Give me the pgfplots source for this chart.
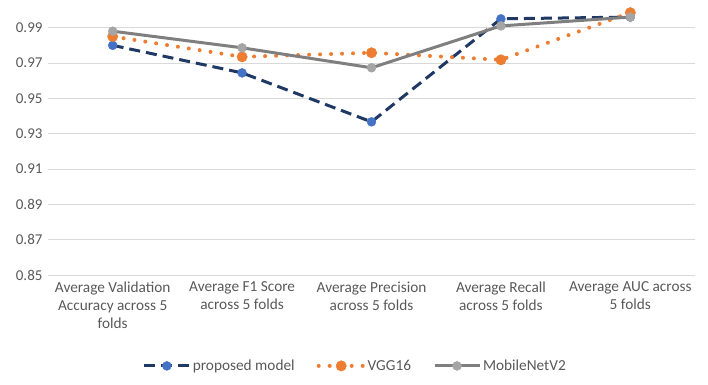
\documentclass[border=0pt]{standalone}
\usepackage{pgfplots}
\pgfplotsset{compat=1.18}
\usepackage{fontspec}
\setmainfont{Carlito}
\definecolor{navy}{HTML}{203864}
\definecolor{blueM}{HTML}{4472C4}
\definecolor{orangeL}{HTML}{ED7D31}
\definecolor{grayL}{HTML}{7F7F7F}
\definecolor{grayM}{HTML}{A5A5A5}
\definecolor{gridc}{HTML}{D9D9D9}
\definecolor{txt}{HTML}{595959}
\begin{document}
\begin{tikzpicture}
\begin{axis}[
  name=ax,
  scale only axis, width=647pt, height=265pt,
  xmin=-0.5, xmax=4.5, ymin=0.85, ymax=1.0,
  axis line style={draw=none},
  tick style={draw=none},
  ytick={0.85,0.87,...,0.995},
  yticklabel style={/pgf/number format/fixed,/pgf/number format/precision=2,/pgf/number format/fixed zerofill,font=\fontsize{15}{18}\selectfont,text=txt,xshift=-2pt},
  /pgf/number format/assume math mode=true,
  ymajorgrids, grid style={gridc, line width=1pt},
  xtick={0,1,2,3,4},
  xticklabels={{Average Validation\\Accuracy across 5\\folds},{Average F1 Score\\across 5 folds},{Average Precision\\across 5 folds},{Average Recall\\across 5 folds},{Average AUC across\\5 folds}},
  xticklabel style={align=center, anchor=north, yshift=-3pt, font=\fontsize{15.3}{18.3}\selectfont, text=txt},
  clip=false,
  legend columns=3,
  legend style={at={(0.475,-0.343)}, anchor=center, draw=none, font=\fontsize{15.3}{18}\selectfont, text=txt,
    /tikz/every even column/.append style={column sep=20pt}},
  legend image code/.code={
    \draw[#1] (0pt,0pt) -- (45pt,0pt);
    \path[#1, solid] plot coordinates {(22.5pt,0pt)};
  },
]
% proposed model
\addplot[navy, line width=3pt, dash pattern=on 11pt off 6pt,
  mark=*, mark size=4.5pt, mark options={solid, line width=0.4pt, fill=blueM, draw=blueM}]
  coordinates {(0,0.980) (1,0.9644) (2,0.9367) (3,0.995) (4,0.996)};
\addlegendentry{proposed model}
% VGG16
\addplot[orangeL, line width=4pt, line cap=round, dash pattern=on 0pt off 11pt,
  mark=*, mark size=5.2pt, mark options={solid, line width=0.4pt, fill=orangeL, draw=orangeL}]
  coordinates {(0,0.985) (1,0.9735) (2,0.9758) (3,0.9718) (4,0.9985)};
\addlegendentry{VGG16}
% MobileNetV2
\addplot[grayL, line width=3pt,
  mark=*, mark size=4.5pt, mark options={solid, line width=0.4pt, fill=grayM, draw=grayM}]
  coordinates {(0,0.988) (1,0.9786) (2,0.9673) (3,0.991) (4,0.996)};
\addlegendentry{MobileNetV2}
\end{axis}
% overall canvas around the plot area
\path ([shift={(-48pt,-109pt)}]ax.south west) rectangle +(708pt,384pt);
\end{tikzpicture}
\end{document}
